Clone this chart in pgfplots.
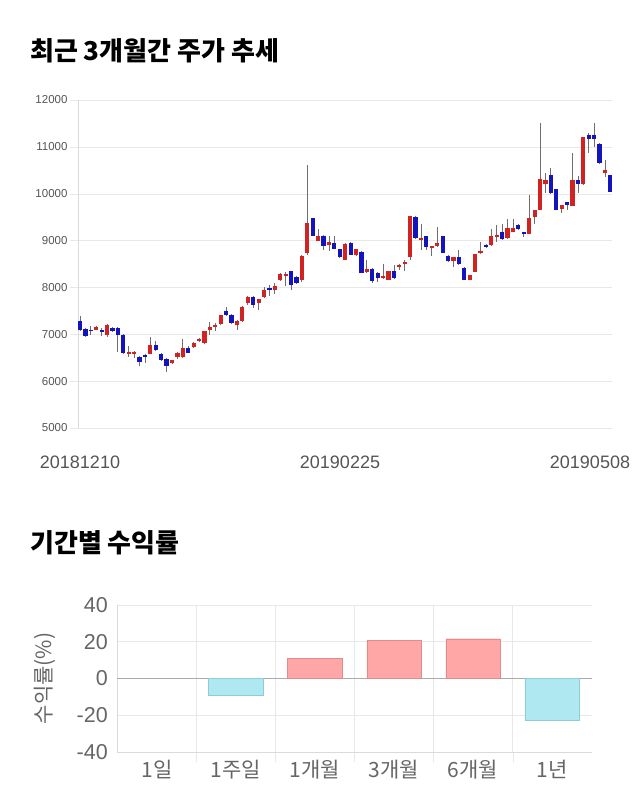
\documentclass[border=0pt]{standalone}
\usepackage{fontspec}
\usepackage{pgfplots}
\usepackage{pgfplotstable}
\pgfplotsset{compat=1.18}
\setmainfont{Liberation Sans}
\newfontfamily\kr{Noto Sans CJK KR}
\definecolor{upred}{RGB}{210,35,35}
\definecolor{dnblue}{RGB}{20,20,190}
\definecolor{wickc}{RGB}{110,110,110}
\definecolor{gridc}{RGB}{232,232,232}
\definecolor{axc}{RGB}{218,218,218}
\definecolor{txt}{RGB}{85,85,85}
\definecolor{txtb}{RGB}{102,102,102}
\definecolor{zeroc}{RGB}{170,170,170}
\definecolor{posbar}{RGB}{255,166,166}
\definecolor{posedge}{RGB}{225,140,140}
\definecolor{negbar}{RGB}{176,232,242}
\definecolor{negedge}{RGB}{140,205,220}

\pgfplotstableread{
i o h l c
0 7290 7380 7080 7090
1 7110 7130 6950 6960
2 7095 7180 6990 7085
3 7100 7180 7090 7160
4 7080 7135 6970 7070
5 6985 7210 6950 7200
6 7140 7150 7050 7060
7 7140 7150 6620 6985
8 6985 7000 6590 6600
9 6570 6755 6520 6630
10 6580 6640 6485 6630
11 6520 6530 6330 6400
12 6555 6570 6380 6525
13 6580 6935 6570 6770
14 6770 6860 6650 6670
15 6580 6600 6440 6455
16 6470 6500 6200 6330
17 6385 6460 6370 6450
18 6505 6620 6480 6605
19 6525 6900 6500 6700
20 6700 6750 6600 6610
21 6720 6840 6700 6810
22 6860 6930 6840 6905
23 6815 7080 6800 7070
24 7090 7270 6990 7150
25 7175 7235 7075 7185
26 7215 7420 7200 7405
27 7490 7590 7390 7405
28 7415 7430 7230 7250
29 7205 7300 7090 7285
30 7280 7600 7270 7590
31 7670 7810 7620 7800
32 7800 7810 7560 7630
33 7670 7760 7520 7750
34 7790 8000 7770 7950
35 7990 8060 7810 7935
36 7935 8090 7865 8020
37 8160 8300 8140 8290
38 8250 8320 8040 8285
39 8350 8360 7950 8060
40 8230 8240 8080 8100
41 8150 8690 8110 8680
42 8740 10610 8695 9380
43 9475 9490 9090 9105
44 9000 9250 8990 9090
45 9105 9120 8805 8890
46 8910 9090 8775 8970
47 8955 9090 8820 8830
48 8810 8820 8620 8640
49 8590 8940 8580 8935
50 8955 8970 8690 8700
51 8700 8830 8680 8820
52 8760 8770 8300 8310
53 8325 8575 8310 8400
54 8400 8410 8090 8140
55 8305 8320 8110 8200
56 8200 8490 8190 8250
57 8165 8360 8150 8350
58 8350 8480 8190 8205
59 8450 8505 8380 8470
60 8520 8575 8360 8540
61 8660 9530 8575 9520
62 9505 9520 9040 9055
63 9020 9345 8790 9055
64 9090 9100 8790 8860
65 8840 8890 8670 8875
66 8875 9290 8860 8955
67 9090 9100 8730 8740
68 8670 8690 8540 8555
69 8570 8650 8445 8640
70 8650 8790 8480 8500
71 8420 8430 8150 8165
72 8165 8260 8150 8255
73 8325 8720 8320 8715
74 8730 8970 8720 8780
75 8895 8920 8850 8860
76 8895 9240 8880 9090
77 9075 9325 8970 9110
78 9175 9360 9010 9025
79 9045 9470 9030 9275
80 9190 9470 9180 9260
81 9340 9350 9220 9240
82 9175 9190 9075 9145
83 9140 9970 9130 9490
84 9495 9660 9360 9645
85 9660 11500 9650 10310
86 10200 10445 10005 10300
87 10400 10540 9990 10005
88 10095 10110 9650 9660
89 9665 9760 9590 9750
90 9815 9830 9645 9760
91 9740 10860 9730 10300
92 10300 10370 10005 10200
93 10200 11220 10190 11210
94 11250 11300 10875 11160
95 11250 11500 11000 11160
96 11065 11080 10640 10650
97 10450 10715 10360 10500
98 10395 10410 10040 10045
}\candles

\begin{document}
\begin{tikzpicture}[x=1pt,y=1pt]
\useasboundingbox (0,0) rectangle (640,-810);
\fill[white] (0,0) rectangle (640,-810);

\node[anchor=base west, inner sep=0pt, font=\kr\bfseries\fontsize{26}{30}\selectfont] at (30,-61) {최근 3개월간 주가 추세};
\node[anchor=base west, inner sep=0pt, font=\kr\bfseries\fontsize{26}{30}\selectfont] at (30,-552) {기간별 수익률};

\begin{axis}[
  at={(78pt,-100pt)}, anchor=north west, scale only axis,
  width=534pt, height=328pt,
  xmin=-0.37, xmax=98.3, ymin=5000, ymax=12000,
  axis x line=none, axis y line*=left,
  y axis line style={draw=axc},
  ytick={5000,6000,...,12000},
  scaled y ticks=false,
  ymajorgrids, grid style={draw=gridc},
  tick align=outside, major tick length=8pt,
  ytick style={draw=gridc},
  yticklabel style={font=\fontsize{11.5}{12}\selectfont, text=txt, xshift=1pt},
  /pgf/number format/assume math mode=true,
  /pgf/number format/1000 sep={},
]
\addplot[draw=none, mark=none, forget plot,
  error bars/.cd, y dir=both, y explicit, error mark=none,
  error bar style={line width=0.8pt, draw=wickc, solid}]
  table[x=i, y expr={(\thisrow{h}+\thisrow{l})/2}, y error expr={(\thisrow{h}-\thisrow{l})/2}] {\candles};
\addplot[draw=none, mark=none, forget plot, restrict y to domain=0:20000,
  error bars/.cd, y dir=both, y explicit, error mark=none,
  error bar style={line width=4.2pt, draw=upred, solid}]
  table[x=i, y expr={ifthenelse(\thisrow{c}>=\thisrow{o},(\thisrow{o}+\thisrow{c})/2,-99999)}, y error expr={max(abs(\thisrow{c}-\thisrow{o})/2,12)}] {\candles};
\addplot[draw=none, mark=none, forget plot, restrict y to domain=0:20000,
  error bars/.cd, y dir=both, y explicit, error mark=none,
  error bar style={line width=4.2pt, draw=dnblue, solid}]
  table[x=i, y expr={ifthenelse(\thisrow{c}<\thisrow{o},(\thisrow{o}+\thisrow{c})/2,-99999)}, y error expr={max(abs(\thisrow{c}-\thisrow{o})/2,12)}] {\candles};
\end{axis}

\node[anchor=base, inner sep=0pt, font=\fontsize{18}{19}\selectfont, text=txt] at (80,-468) {20181210};
\node[anchor=base, inner sep=0pt, font=\fontsize{18}{19}\selectfont, text=txt] at (340,-468) {20190225};
\node[anchor=base, inner sep=0pt, font=\fontsize{18}{19}\selectfont, text=txt] at (590,-468) {20190508};

\begin{axis}[
  at={(117.3pt,-605pt)}, anchor=north west, scale only axis,
  width=474.4pt, height=146.7pt,
  xmin=-0.5, xmax=5.5, ymin=-40, ymax=40,
  axis lines*=left, axis line style={draw=axc},
  ytick={-40,-20,0,20,40},
  xtick={0,1,2,3,4,5},
  xticklabels={1일,1주일,1개월,3개월,6개월,1년},
  minor xtick={0.5,1.5,2.5,3.5,4.5},
  xminorgrids, ymajorgrids,
  grid style={draw=gridc},
  tick align=outside, major tick length=0pt, minor tick length=10pt,
  minor tick style={draw=gridc},
  xticklabel style={font=\kr\fontsize{21}{22}\selectfont, text=txtb, yshift=-5pt},
  yticklabel style={font=\fontsize{21.5}{22}\selectfont, text=txtb, xshift=-6pt},
  /pgf/number format/assume math mode=true,
  extra y ticks={0}, extra y tick labels={},
  extra y tick style={ymajorgrids=true, major grid style={draw=zeroc}},
  ylabel={수익률(\%)},
  every axis y label/.style={at={(axis description cs:-0.152,0.5)}, rotate=90, anchor=center, font=\kr\fontsize{21}{22}\selectfont, text=txtb},
]
\addplot[ybar, bar width=0.69, bar shift=0pt, fill=posbar, draw=posedge] coordinates {(2,10.9) (3,20.9) (4,21.6)};
\addplot[ybar, bar width=0.69, bar shift=0pt, fill=negbar, draw=negedge] coordinates {(1,-9.1) (5,-22.9)};
\end{axis}
\end{tikzpicture}
\end{document}
